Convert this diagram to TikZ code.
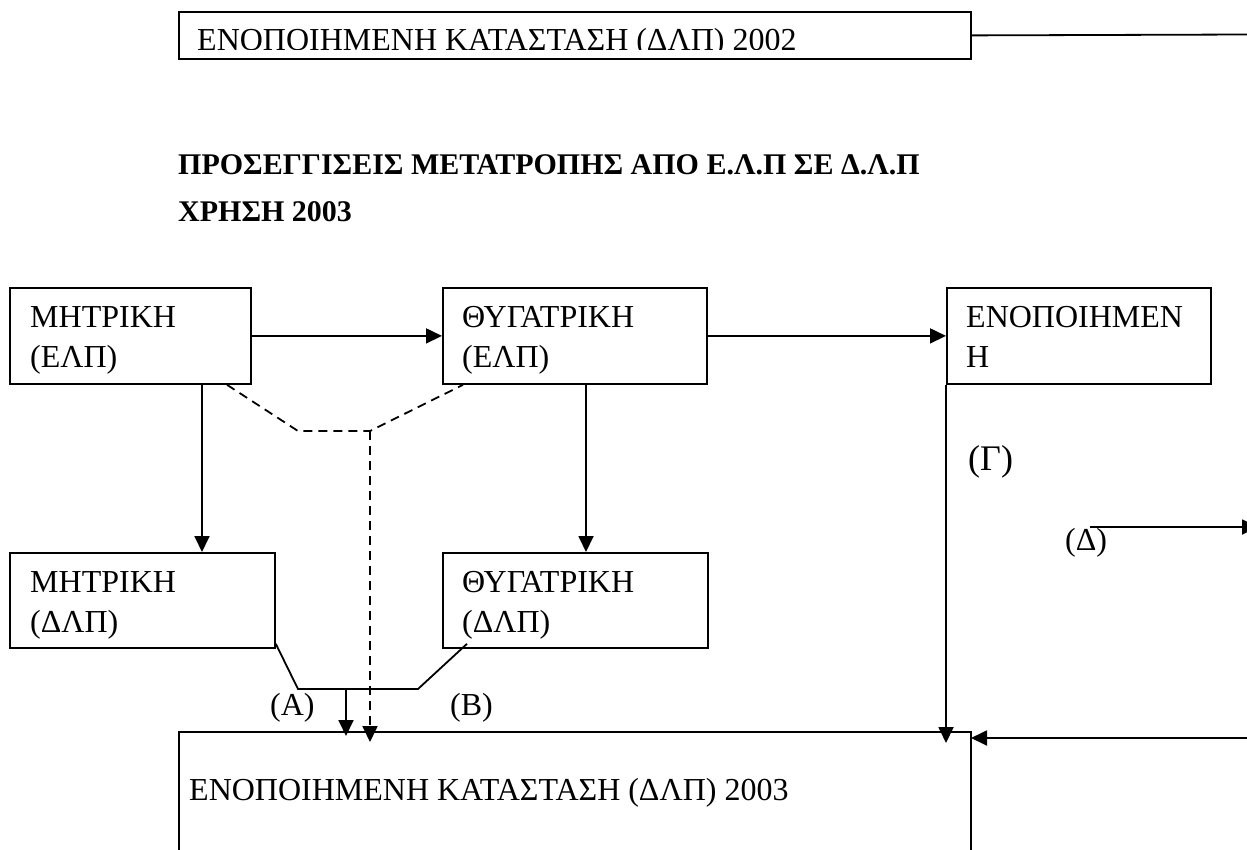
\documentclass[tikz,border=0pt]{standalone}
\usepackage{fontspec}
\setmainfont{Liberation Serif}
\usetikzlibrary{arrows.meta}
\begin{document}
\begin{tikzpicture}[x=1pt,y=-1pt,
  frame/.style={draw, line width=1.8pt, rectangle, inner sep=0pt, anchor=north west},
  link/.style={line width=1.8pt},
  arr/.style={link, -{Triangle[length=16pt,width=15pt]}},
  dlink/.style={line width=1.8pt, dash pattern=on 9pt off 6pt},
  darr/.style={dlink, -{Triangle[length=16pt,width=15pt]}},
  txt/.style={anchor=base west, inner sep=0pt, font=\fontsize{32}{40}\selectfont},
  ttl/.style={anchor=base west, inner sep=0pt, font=\fontsize{30}{36}\selectfont\bfseries}]
\useasboundingbox (0,0) rectangle (1247,849);

% top box: consolidated statement 2002
\node[frame, minimum width=792pt, minimum height=47pt] (top) at (178,11) {};
\begin{scope}
  \clip (178,0) rectangle (970,49);
  \node[txt] (toptxt) at (197,50.5) {ΕΝΟΠΟΙΗΜΕΝΗ ΚΑΤΑΣΤΑΣΗ (ΔΛΠ) 2002};
\end{scope}
\coordinate (topend) at (1247,34.5);
\draw[link] (top.east) -- (topend);

% title
\node[ttl] (title1) at (178,174) {ΠΡΟΣΕΓΓΙΣΕΙΣ ΜΕΤΑΤΡΟΠΗΣ ΑΠΟ Ε.Λ.Π ΣΕ Δ.Λ.Π};
\node[ttl] (title2) at (178,221) {ΧΡΗΣΗ 2003};

% boxes
\node[frame, minimum width=241pt, minimum height=96pt] (m1) at (9,287) {};
\node[frame, minimum width=264pt, minimum height=96pt] (m2) at (442,287) {};
\node[frame, minimum width=264pt, minimum height=96pt] (m5) at (946,287) {};
\node[frame, minimum width=265pt, minimum height=95pt] (m3) at (9,552) {};
\node[frame, minimum width=265pt, minimum height=95pt] (m4) at (442,552) {};
\node[frame, minimum width=792pt, minimum height=140pt] (bb) at (178,731) {};

% box texts
\node[txt] at (30,327) {ΜΗΤΡΙΚΗ};
\node[txt] at (30,367) {(ΕΛΠ)};
\node[txt] at (462,327) {ΘΥΓΑΤΡΙΚΗ};
\node[txt] at (462,367) {(ΕΛΠ)};
\node[txt] at (966,327) {ΕΝΟΠΟΙΗΜΕΝ};
\node[txt] at (966,367) {Η};
\node[txt] at (30,592) {ΜΗΤΡΙΚΗ};
\node[txt] at (30,632) {(ΔΛΠ)};
\node[txt] at (462,592) {ΘΥΓΑΤΡΙΚΗ};
\node[txt] at (462,632) {(ΔΛΠ)};
\node[txt] at (189,800) {ΕΝΟΠΟΙΗΜΕΝΗ ΚΑΤΑΣΤΑΣΗ (ΔΛΠ) 2003};

% labels
\node[txt] (la) at (270,715) {(Α)};
\node[txt] (lb) at (450,715) {(Β)};
\node[txt, font=\fontsize{36}{40}\selectfont] (lg) at (968,470) {(Γ)};
\node[txt] (ld) at (1065,550) {(Δ)};

% horizontal flows
\draw[arr] (m1.east) -- (m2.west);
\draw[arr] (m2.east) -- (m5.west);

% vertical flows between the levels
\draw[arr] ([xshift=193pt]m1.south west) -- ([xshift=193pt]m3.north west);
\draw[arr] ([xshift=144pt]m2.south west) -- ([xshift=144pt]m4.north west);

% dashed route joining both parents
\coordinate (d1) at (298,431);
\coordinate (d2) at (370,431);
\coordinate (td) at (370,742);
\draw[dlink] ([xshift=218pt]m1.south west) -- (d1) -- (d2) -- ([xshift=21pt]m2.south west);
\draw[darr] (d2) -- (td);

% solid route (A)+(B)
\coordinate (j1) at (298,689);
\coordinate (j2) at (418,689);
\coordinate (ja) at (346,689);
\coordinate (ta) at (346,736);
\draw[link] ([yshift=5pt]m3.south east) -- (j1) -- (j2) -- ([shift={(25pt,5pt)}]m4.south west);
\draw[arr] (ja) -- (ta);

% route (Γ)
\coordinate (tg) at (946,743);
\draw[arr] (m5.south west) -- (tg);

% route (Δ)
\coordinate (ds) at (1090,527);
\coordinate (de) at (1258,527);
\draw[arr] (ds) -- (de);

% incoming from the right
\coordinate (rs) at (1247,738);
\coordinate (re) at (971,738);
\draw[arr] (rs) -- (re);
\end{tikzpicture}
\end{document}
